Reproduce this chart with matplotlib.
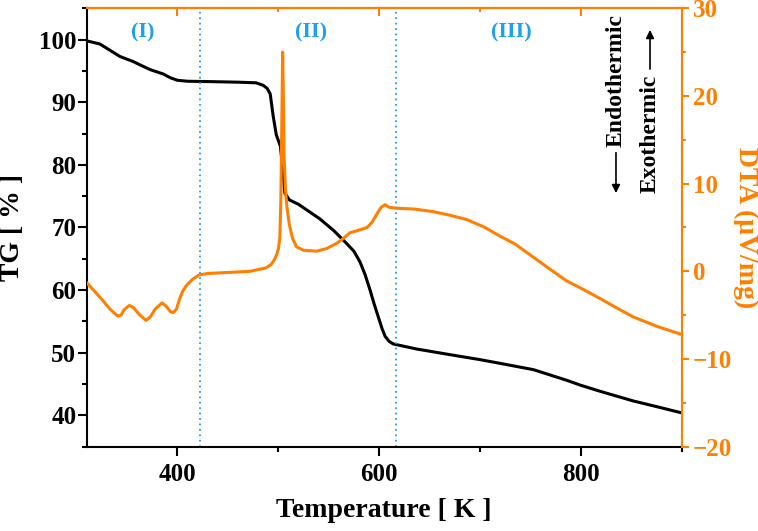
import matplotlib
matplotlib.use("Agg")
import matplotlib.pyplot as plt
from matplotlib.ticker import MultipleLocator

ORANGE = "#FF8000"
BLUE = "#1EA0F0"

# ---- data ----------------------------------------------------------------
T_TG = [310, 323, 333, 343, 356, 365, 373, 386, 393, 400, 410, 430, 460, 478,
        485, 489, 492, 495, 498, 502, 504, 506.5, 511, 520, 530, 541, 555,
        568, 575, 581, 586, 591, 595, 599, 603, 606, 610, 614, 637, 670, 700,
        720, 753, 786, 800, 820, 852, 875, 900]
TG = [99.8, 99.3, 98.3, 97.3, 96.5, 95.8, 95.2, 94.5, 93.9, 93.5, 93.35,
      93.3, 93.2, 93.1, 92.7, 92.2, 91.3, 87.7, 84.8, 83.0, 80.0, 75.5, 74.4,
      73.7, 72.6, 71.4, 69.5, 67.4, 66.2, 64.5, 62.5, 60.0, 57.8, 55.8, 53.8,
      52.6, 51.8, 51.4, 50.6, 49.7, 48.9, 48.3, 47.3, 45.6, 44.8, 43.8, 42.3,
      41.4, 40.4]

T_DTA = [310, 318, 325, 333, 340.7, 344, 347, 352.2, 356, 362, 368.8, 373,
         378, 384.7, 389, 393, 396, 399, 402, 405, 409, 415, 421.6, 430, 472,
         488, 493, 496, 498, 500, 501.5, 502.5, 503.5, 504.3, 505, 505.8, 507,
         508.5, 511, 514, 518, 525, 538, 548, 558, 565, 571, 580, 588, 593,
         597.5, 602, 606, 610, 617, 635, 654, 670, 687, 705, 720, 735, 753,
         770, 786, 803, 819, 836, 852, 876, 900]
DTA = [-1.3, -2.3, -3.2, -4.3, -5.1, -5.0, -4.4, -3.9, -4.1, -4.9, -5.6, -5.2,
       -4.3, -3.6, -4.0, -4.6, -4.7, -4.3, -3.2, -2.3, -1.6, -0.9, -0.4,
       -0.25, 0.0, 0.4, 0.8, 1.3, 1.8, 2.5, 3.8, 8.0, 17.0, 25.0, 20.0, 13.0,
       9.5, 7.4, 5.3, 3.8, 2.8, 2.4, 2.3, 2.6, 3.2, 3.8, 4.4, 4.7, 5.0, 5.6,
       6.5, 7.3, 7.6, 7.3, 7.2, 7.1, 6.8, 6.4, 5.9, 5.0, 4.0, 3.1, 1.6, 0.2,
       -1.1, -2.1, -3.1, -4.2, -5.2, -6.3, -7.2]

STAGE_BOUNDS = [422, 617]
STAGES = [(366, "(I)"), (532, "(II)"), (731, "(III)")]

plt.rcParams["font.family"] = ["Liberation Serif", "DejaVu Serif"]
plt.rcParams["font.weight"] = "bold"

fig = plt.figure(figsize=(7.58, 5.31), dpi=100)
ax = fig.add_axes([0.1144, 0.1588, 0.7849, 0.8256])
ax2 = ax.twinx()

ax.plot(T_TG, TG, color="black", lw=2.2)
ax2.plot(T_DTA, DTA, color=ORANGE, lw=2.2)
for xb in STAGE_BOUNDS:
    ax.axvline(xb, color=BLUE, lw=1.3, ls=(0, (1, 2)))
for xs, s in STAGES:
    ax.text(xs, 0.945, s, transform=ax.get_xaxis_transform(), color=BLUE,
            fontsize=16, ha="center", va="center")

ax.set_xlim(310, 900)
ax.set_ylim(35, 105)
ax2.set_ylim(-20, 30)
ax.set_xticks([400, 600, 800])
ax.xaxis.set_minor_locator(MultipleLocator(100))
ax.set_yticks(range(40, 101, 10))
ax.yaxis.set_minor_locator(MultipleLocator(5))
ax2.set_yticks(range(-20, 31, 10))
ax2.yaxis.set_minor_locator(MultipleLocator(5))

ax.tick_params(which="major", length=6.5, width=1.5, labelsize=18, pad=1)
ax.tick_params(which="minor", length=3.5, width=1.5)
ax.tick_params(axis="x", pad=5)
ax2.tick_params(which="major", length=5, width=1.5, labelsize=18, pad=3,
                colors=ORANGE)
ax2.tick_params(which="minor", length=3, width=1.5, colors=ORANGE)

sec = ax.secondary_xaxis("top")
sec.set_xticks([400, 600, 800])
sec.xaxis.set_minor_locator(MultipleLocator(100))
sec.tick_params(which="major", direction="in", length=6, width=1.5,
                colors=ORANGE, labeltop=False)
sec.tick_params(which="minor", direction="in", length=3, width=1.5,
                colors=ORANGE)
sec.spines["top"].set_color(ORANGE)
sec.spines["top"].set_linewidth(1.5)

for a in (ax, ax2):
    for side in ("left", "bottom"):
        a.spines[side].set_color("black")
        a.spines[side].set_linewidth(1.5)
    for side in ("top", "right"):
        a.spines[side].set_color(ORANGE)
        a.spines[side].set_linewidth(1.5)
ax2.spines["left"].set_visible(False)
ax2.spines["bottom"].set_visible(False)

ax.set_xlabel("Temperature [ K ]", fontsize=20, fontweight="bold")
ax.xaxis.set_label_coords(0.5, -0.145)
ax.xaxis.label.set_va("center")
ax.set_ylabel("TG [ % ]", fontsize=20, fontweight="bold")
ax.yaxis.set_label_coords(-0.124, 0.5)
ax.yaxis.label.set_va("center")
ax2.set_ylabel("DTA (\u03bcV/mg)", fontsize=20, fontweight="bold",
               color=ORANGE, rotation=270)
ax2.yaxis.set_label_coords(1.107, 0.5)
ax2.yaxis.label.set_va("center")

# endo / exo arrows
ax.text(0.8896, 0.834, "Endothermic", transform=ax.transAxes, rotation=90,
        fontsize=17, ha="center", va="center")
ax.annotate("", xy=(0.8896, 0.572), xytext=(0.8896, 0.677),
            xycoords="axes fraction",
            arrowprops=dict(arrowstyle="-|>", color="black", lw=1.2,
                            mutation_scale=12))
ax.text(0.9468, 0.714, "Exothermic", transform=ax.transAxes, rotation=90,
        fontsize=17, ha="center", va="center")
ax.annotate("", xy=(0.9468, 0.957), xytext=(0.9468, 0.855),
            xycoords="axes fraction",
            arrowprops=dict(arrowstyle="-|>", color="black", lw=1.2,
                            mutation_scale=12))

fig.savefig("out.png", dpi=100)
